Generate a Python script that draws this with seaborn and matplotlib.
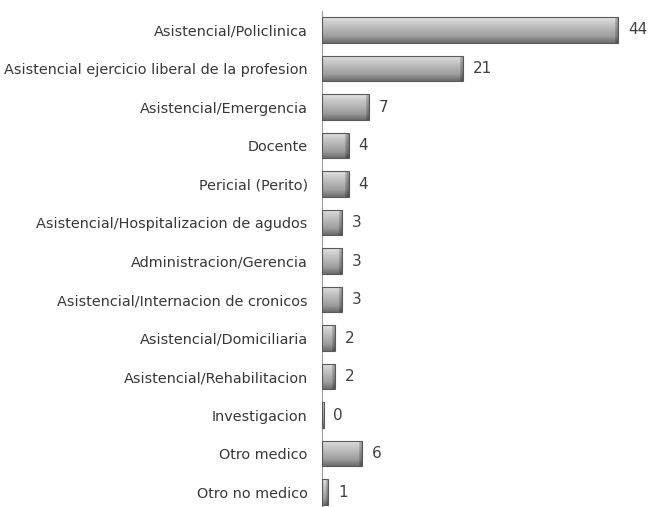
import matplotlib
matplotlib.use("Agg")
import matplotlib.pyplot as plt
import numpy as np
import pandas as pd
import seaborn as sns
from matplotlib.colors import LinearSegmentedColormap

categories = [
    "Asistencial/Policlinica",
    "Asistencial ejercicio liberal de la profesion",
    "Asistencial/Emergencia",
    "Docente",
    "Pericial (Perito)",
    "Asistencial/Hospitalizacion de agudos",
    "Administracion/Gerencia",
    "Asistencial/Internacion de cronicos",
    "Asistencial/Domiciliaria",
    "Asistencial/Rehabilitacion",
    "Investigacion",
    "Otro medico",
    "Otro no medico",
]
counts = [44, 21, 7, 4, 4, 3, 3, 3, 2, 2, 0, 6, 1]

df = pd.DataFrame({"categoria": categories, "n": counts})

sns.set_style("white")
plt.rcParams["font.family"] = ["DejaVu Sans"]

fig = plt.figure(figsize=(6.5, 5.07), dpi=100)
ax = fig.add_axes([0.495, -0.0084, 0.49, 0.9872])

sns.barplot(data=df, y="categoria", x="n", orient="h", ax=ax,
            color="#b0b0b0", width=0.67, edgecolor="#5a5a5a", linewidth=0.8)

px_per_unit = 6.77
xmax = 320 / px_per_unit
ax.set_xlim(0, xmax)
ylim = ax.get_ylim()

# gray gradient fill: light on top, dark at the bottom, darker right cap
cmap = LinearSegmentedColormap.from_list(
    "bar", ["#e2e2e2", "#c8c8c8", "#b2b2b2", "#9c9c9c", "#6c6c6c"])
for p in ax.patches:
    x0, y0 = p.get_x(), p.get_y()
    w, h = p.get_width(), p.get_height()
    if w <= 0:
        w = 0.3
        p.set_width(w)
    ncol = max(int(round(w * px_per_unit)), 2)
    rgb = cmap(np.linspace(0, 1, 64))[:, :3]
    img = np.repeat(rgb[:, None, :], ncol, axis=1)
    shade = np.ones(ncol)
    cap = min(4, ncol // 2)
    if cap > 0:
        shade[-cap:] = np.linspace(0.85, 0.65, cap)
    img = img * shade[None, :, None]
    im = ax.imshow(img, aspect="auto", origin="upper",
                   extent=(x0, x0 + w, y0 + h, y0), zorder=2)
    im.set_clip_path(p)
    p.set_facecolor("none")
    p.set_zorder(3)

ax.set_xlim(0, xmax)
ax.set_ylim(ylim)

for c in ax.containers:
    ax.bar_label(c, labels=[str(v) for v in counts], padding=7,
                 fontsize=11, color="#404040")

ax.set_xlabel("")
ax.set_ylabel("")
ax.set_xticks([])
sns.despine(ax=ax, top=True, right=True, bottom=True)
ax.spines["left"].set_color("#9a9a9a")
ax.spines["left"].set_linewidth(0.8)

ax.tick_params(axis="y", which="major", length=0, pad=10,
               labelsize=10.4, labelcolor="#383838")
ax.set_yticks(np.arange(-0.5, len(categories), 1.0), minor=True)
ax.tick_params(axis="y", which="minor", length=4, width=0.8,
               color="#9a9a9a", direction="out")

fig.savefig("out.png", dpi=100)
